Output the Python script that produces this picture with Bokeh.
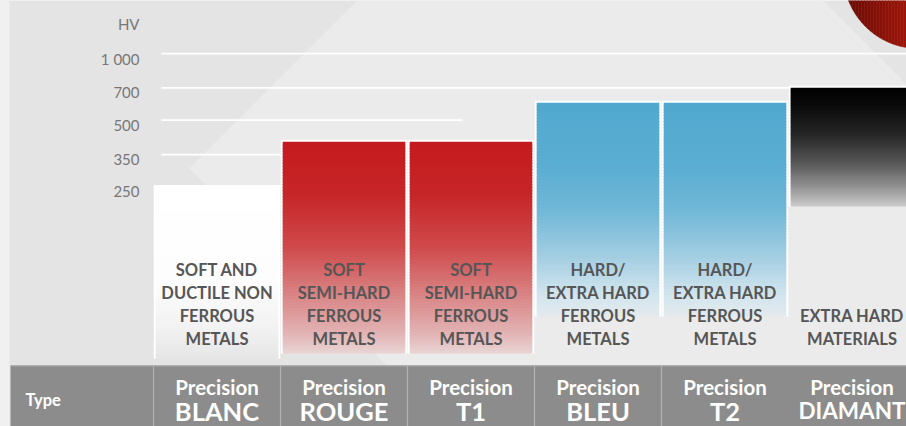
import numpy as np
from bokeh.plotting import figure
from bokeh.models import Range1d, LinearScale
from bokeh.core.properties import value
from bokeh.embed import file_html
from bokeh.resources import INLINE

# ---------------- data ----------------
codes = ["BLANC", "ROUGE", "T1", "BLEU", "T2", "DIAMANT"]
code_prefix = "Precision"
materials = [
    "SOFT AND\nDUCTILE NON\nFERROUS\nMETALS",
    "SOFT\nSEMI-HARD\nFERROUS\nMETALS",
    "SOFT\nSEMI-HARD\nFERROUS\nMETALS",
    "HARD/\nEXTRA HARD\nFERROUS\nMETALS",
    "HARD/\nEXTRA HARD\nFERROUS\nMETALS",
    "EXTRA HARD\nMATERIALS",
]
hardness_hv = [250, 400, 400, 600, 600, 700]
hv_ticks = [250, 350, 500, 700, 1000]
hv_tick_labels = ["250", "350", "500", "700", "1 000"]
axis_unit = "HV"
row_header = "Type"

# ---------------- layout / style ----------------
W_REF, H_REF = 906, 426          # design grid (reference pixels)
W, H = 906, 426                  # figure size
COL_W, FIRST_C = 127.0, 216.5    # column width / first column centre (design px)
ANCHOR_HV, ANCHOR_PX, PX_PER_DEC = 250.0, 186.4, 221.5
BG = "#e4e4e4"
FONT = value("Lato")

log_top = np.log10(ANCHOR_HV) + ANCHOR_PX / PX_PER_DEC
log_bot = np.log10(ANCHOR_HV) - (H_REF - ANCHOR_PX) / PX_PER_DEC


def px_to_hv(py):
    return 10 ** (log_top - py / PX_PER_DEC)


bar_style = ["white", "red", "red", "blue", "blue", "black"]
fade_end_px = {"white": 358, "red": 353, "blue": 316, "black": 206}
stops = {
    "white": [(0, "#ffffff"), (0.55, "#fdfdfd"), (0.8, "#f3f3f3"), (1, "#e6e6e6")],
    "red": [(0, "#c41a1e"), (0.25, "#c62628"), (0.5, "#cf4a4c"), (0.72, "#d98384"),
            (0.9, "#e2b2b3"), (1, "#e8d4d4")],
    "blue": [(0, "#51a9cf"), (0.3, "#5badd2"), (0.5, "#70b7d7"), (0.72, "#a3cee2"),
             (0.9, "#d2e5ee"), (1, "#e4eaed")],
    "black": [(0, "#000000"), (0.15, "#0b0b0b"), (0.4, "#272727"), (0.62, "#545454"),
              (0.83, "#919191"), (1, "#cbcbcb")],
}
grid_start_px = 161
grid_end_px = [282, 282, 462, 906, 906]
code_font_sizes = ["25.5px"] * 5 + ["22.5px"]


def hex2rgb(h):
    return np.array([int(h[i:i + 2], 16) for i in (1, 3, 5)], dtype=float)


def grad(style, t):
    s = stops[style]
    ts = [a for a, _ in s]
    cs = np.array([hex2rgb(c) for _, c in s])
    rgb = [np.interp(t, ts, cs[:, k]) for k in range(3)]
    return "#%02x%02x%02x" % tuple(int(round(v)) for v in rgb)


x_start = -FIRST_C / COL_W
x_end = (W_REF - FIRST_C) / COL_W

p = figure(width=W, height=H, x_range=Range1d(x_start, x_end),
           y_range=Range1d(10 ** log_bot, 10 ** log_top), y_axis_type="log",
           x_axis_location=None, y_axis_location=None,
           toolbar_location=None, output_backend="svg", min_border=0,
           outline_line_color=None, background_fill_color=BG, border_fill_color=BG)
for g in p.grid:
    g.visible = False

p.extra_x_ranges = {"px": Range1d(0, W_REF)}
p.extra_y_ranges = {"py": Range1d(H_REF, 0)}
p.extra_x_scales = {"px": LinearScale()}
p.extra_y_scales = {"py": LinearScale()}

# ---- background decoration ----
p.patch([357, 822, 906, 906, 386, 189], [0, 0, 84, 365, 365, 168],
        x_range_name="px", y_range_name="py", fill_color="#ebebeb", line_color=None)
p.quad(left=[0], right=[9], top=[0], bottom=[H_REF], x_range_name="px", y_range_name="py",
       fill_color="#f0f0f0", line_color=None)

# red disc (top right), horizontal gradient strips
cx, cy, r = 918.0, -27.0, 75.0
edges = np.linspace(cx - r, W_REF, 22)
xs_list, ys_list, ccol = [], [], []
for k in range(len(edges) - 1):
    xx = np.linspace(edges[k], edges[k + 1], 6)
    yy = cy + np.sqrt(np.clip(r ** 2 - (xx - cx) ** 2, 0, None))
    xs_list.append([edges[k]] + list(xx) + [edges[k + 1]])
    ys_list.append([-120] + list(yy) + [-120])
    t = k / (len(edges) - 2)
    c0, c1 = hex2rgb("#6a0b04"), hex2rgb("#9c150a")
    cc = c0 + (c1 - c0) * t
    ccol.append("#%02x%02x%02x" % tuple(int(v) for v in cc))
p.patches(xs_list, ys_list, x_range_name="px", y_range_name="py",
          fill_color=ccol, line_color=ccol, line_width=0.5)

# ---- grid lines ----
p.segment(x0=[grid_start_px] * len(hv_ticks), x1=grid_end_px, y0=hv_ticks, y1=hv_ticks,
          x_range_name="px", line_color="white", line_width=1.8)

# ---- tick labels and unit ----
p.text(x=[139] * len(hv_ticks), y=hv_ticks, text=hv_tick_labels, x_range_name="px",
       text_align="right", text_baseline="middle", y_offset=5, text_font=FONT,
       text_font_size="15px", text_color="#777777")
p.text(x=[139], y=[23], text=[axis_unit], x_range_name="px", y_range_name="py",
       text_align="right", text_baseline="middle", text_font=FONT,
       text_font_size="15px", text_color="#777777")

# ---- bars ----
idx = np.arange(len(codes), dtype=float)
BW = 0.965
N = 70
L, R, T, B, C = [], [], [], [], []
oxs, oys = [], []
for i, (hv, st) in enumerate(zip(hardness_hv, bar_style)):
    bottom_hv = px_to_hv(fade_end_px[st])
    oxs.append([i - BW / 2, i - BW / 2, i + BW / 2, i + BW / 2])
    oys.append([bottom_hv, hv, hv, bottom_hv])
    e = np.geomspace(hv, bottom_hv, N + 1)
    for k in range(N):
        L.append(i - BW / 2)
        R.append(i + BW / 2)
        T.append(e[k])
        B.append(e[k + 1] / 1.012 if k < N - 1 else e[k + 1])
        C.append(grad(st, (k + 0.5) / N))
p.multi_line(oxs, oys, line_color="white", line_width=4, line_join="miter")
p.quad(left=L, right=R, top=T, bottom=B, fill_color=C, line_color=None)

# ---- material labels ----
p.text(x=idx, y=[348] * len(codes), text=materials, y_range_name="py",
       text_align="center", text_baseline="bottom", text_line_height=1.15,
       text_font=FONT, text_font_style="bold", text_font_size="16.5px",
       text_color="#565656")

# ---- bottom table ----
p.quad(left=[10], right=[W_REF], top=[365], bottom=[H_REF], x_range_name="px",
       y_range_name="py", fill_color="#8c8c8c", line_color=None)
p.segment(x0=[10], x1=[W_REF], y0=[365.5], y1=[365.5], x_range_name="px", y_range_name="py",
          line_color="#a6a6a6", line_width=1.2)
sep = idx[:-1] - 0.5
p.segment(x0=sep, x1=sep, y0=[365] * len(sep), y1=[H_REF] * len(sep), y_range_name="py",
          line_color="#b2b2b2", line_width=1.2)
p.text(x=[25], y=[399], text=[row_header], x_range_name="px", y_range_name="py",
       text_baseline="middle", text_font=FONT, text_font_style="bold",
       text_font_size="16.5px", text_color="white")
p.text(x=idx, y=[386] * len(codes), text=[code_prefix] * len(codes), y_range_name="py",
       text_align="center", text_baseline="alphabetic", text_font=FONT,
       text_font_style="bold", text_font_size="20.5px", text_color="white")
p.text(x=idx, y=[410] * len(codes), text=codes, y_range_name="py",
       text_align="center", text_baseline="alphabetic", text_font=FONT,
       text_font_style="bold", text_font_size=code_font_sizes, text_color="white")

open("out.html", "w").write(file_html(p, INLINE))
